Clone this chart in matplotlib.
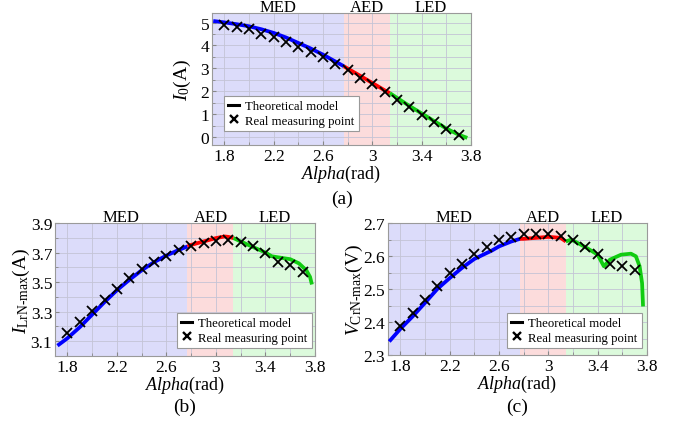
import numpy as np
import matplotlib
matplotlib.use("Agg")
import matplotlib.pyplot as plt
from matplotlib.lines import Line2D

plt.rcParams['font.family'] = ['Liberation Serif', 'DejaVu Serif']
plt.rcParams['mathtext.fontset'] = 'custom'
plt.rcParams['mathtext.rm'] = 'Liberation Serif'
plt.rcParams['mathtext.it'] = 'Liberation Serif:italic'
plt.rcParams['mathtext.bf'] = 'Liberation Serif:bold'

# ---------------- data ----------------
# region boundaries (rad)
med_aed = 2.77
aed_led = 3.1416
region_names = ["MED", "AED", "LED"]

# measured points (same alpha grid for all three quantities)
alpha_meas = [1.8, 1.9, 2.0, 2.1, 2.2, 2.3, 2.4, 2.5, 2.6, 2.7,
              2.8, 2.9, 3.0, 3.1, 3.2, 3.3, 3.4, 3.5, 3.6, 3.7]
i0_meas = [4.91, 4.80, 4.70, 4.52, 4.36, 4.17, 3.95, 3.72, 3.48, 3.19,
           2.92, 2.60, 2.30, 1.97, 1.63, 1.30, 0.98, 0.66, 0.36, 0.07]
ilrn_meas = [3.155, 3.227, 3.302, 3.382, 3.455, 3.525, 3.589, 3.634, 3.680, 3.718,
             3.745, 3.764, 3.775, 3.786, 3.770, 3.741, 3.700, 3.639, 3.616, 3.566]
vcrn_meas = [2.389, 2.427, 2.466, 2.508, 2.548, 2.577, 2.607, 2.627, 2.647, 2.658,
             2.668, 2.668, 2.668, 2.662, 2.647, 2.627, 2.607, 2.577, 2.569, 2.557]

# theoretical model curves
i0_model_x = [1.71, 1.8, 1.9, 2.0, 2.1, 2.2, 2.3, 2.4, 2.5, 2.6, 2.7, 2.77,
              2.8, 2.9, 3.0, 3.1, 3.1416, 3.2, 3.3, 3.4, 3.5, 3.6, 3.7, 3.77]
i0_model_y = [5.07, 5.01, 4.93, 4.84, 4.71, 4.55, 4.35, 4.11, 3.87, 3.60, 3.30, 3.09,
              2.99, 2.68, 2.36, 2.04, 1.92, 1.71, 1.36, 1.03, 0.70, 0.37, 0.10, -0.04]

ilrn_model_x = [1.72, 1.8, 1.9, 2.0, 2.1, 2.2, 2.3, 2.4, 2.5, 2.6, 2.7, 2.77,
                2.8, 2.9, 3.0, 3.07, 3.1, 3.1416, 3.2, 3.3, 3.4, 3.45, 3.5, 3.6,
                3.67, 3.73, 3.76, 3.775]
ilrn_model_y = [3.07, 3.12, 3.195, 3.28, 3.365, 3.445, 3.515, 3.58, 3.635, 3.68, 3.718, 3.741,
                3.752, 3.775, 3.798, 3.809, 3.806, 3.798, 3.775, 3.737, 3.70, 3.675, 3.668, 3.655,
                3.627, 3.58, 3.535, 3.484]

vcrn_model_x = [1.71, 1.8, 1.9, 2.0, 2.1, 2.2, 2.3, 2.4, 2.5, 2.54, 2.6, 2.7, 2.77,
                2.8, 2.9, 3.0, 3.1, 3.1416, 3.18, 3.2, 3.3, 3.4, 3.45, 3.5, 3.59,
                3.67, 3.71, 3.74, 3.76, 3.768]
vcrn_model_y = [2.341, 2.379, 2.417, 2.458, 2.50, 2.533, 2.564, 2.591, 2.609, 2.616, 2.629, 2.644, 2.652,
                2.652, 2.655, 2.658, 2.655, 2.644, 2.649, 2.647, 2.627, 2.604, 2.569, 2.589, 2.604,
                2.607, 2.599, 2.569, 2.518, 2.447]

x_ticks = [1.8, 2.2, 2.6, 3.0, 3.4, 3.8]
x_tick_labels = ["1.8", "2.2", "2.6", "3", "3.4", "3.8"]
x_minor = [2.0, 2.4, 2.8, 3.2, 3.6]

# ---------------- styling ----------------
W, H = 680, 427
shade = ["#dcdcfa", "#fcdcdc", "#dcfadc"]
line_col = ["#0000ff", "#ff0000", "#11cc11"]
grid_col = "#c4c4d6"
frame_col = "#9a9a9a"

fig = plt.figure(figsize=(W / 100, H / 100), dpi=100)


def rect(l, t, r, b):
    return [l / W, 1 - b / H, (r - l) / W, (b - t) / H]


def panel(box, mx, my, cx, cy, ylim, yticks, yticklabels, yminor, ylabel,
          ylabel_x, legend_xy, tag, tag_y):
    ax = fig.add_axes(rect(*box))
    ax.set_xlim(1.7, 3.8)
    ax.set_ylim(*ylim)
    ax.set_axisbelow(True)
    x0, x1 = ax.get_xlim()
    bounds = [x0, med_aed, aed_led, x1]
    for k in range(3):
        ax.axvspan(bounds[k], bounds[k + 1], color=shade[k], zorder=0.1, lw=0)
        ax.annotate(region_names[k], xy=((bounds[k] + bounds[k + 1]) / 2, 1.0),
                    xycoords=("data", "axes fraction"), xytext=(0, 1.5),
                    textcoords="offset points", ha="center", va="baseline",
                    fontsize=12)

    cx = np.asarray(cx)
    cy = np.asarray(cy)
    masks = [cx <= med_aed + 1e-9,
             (cx >= med_aed - 1e-9) & (cx <= aed_led + 1e-9),
             cx >= aed_led - 1e-9]
    for k in range(3):
        ax.plot(cx[masks[k]], cy[masks[k]], color=line_col[k], lw=2.7,
                solid_capstyle="butt", zorder=3)
    ax.plot(mx, my, ls="none", marker="x", ms=6.5, mew=1.3, color="black",
            zorder=4)

    ax.set_xticks(x_ticks)
    ax.set_xticklabels(x_tick_labels)
    ax.set_xticks(x_minor, minor=True)
    ax.set_yticks(yticks)
    ax.set_yticklabels(yticklabels)
    ax.set_yticks(yminor, minor=True)
    ax.grid(True, which="both", color=grid_col, lw=0.6)
    ax.tick_params(which="both", direction="in", color="#888888",
                   labelsize=12.5, pad=2)
    ax.tick_params(which="major", length=3)
    ax.tick_params(which="minor", length=2)
    for s in ax.spines.values():
        s.set_color(frame_col)
        s.set_linewidth(0.8)

    ax.set_xlabel(r"$\mathit{Alpha}$(rad)", fontsize=13, labelpad=-1)
    ax.set_ylabel(ylabel, fontsize=14)
    ax.yaxis.set_label_coords(ylabel_x, 0.5)

    handles = [Line2D([], [], color="black", lw=2.2),
               Line2D([], [], color="black", ls="none", marker="x", ms=6,
                      mew=1.7)]
    leg = ax.legend(handles, ["Theoretical model", "Real measuring point"],
                    loc="lower left",
                    bbox_to_anchor=(legend_xy[0] / W, 1 - legend_xy[1] / H),
                    bbox_transform=fig.transFigure, borderaxespad=0,
                    fontsize=9.2, handlelength=0.8, handletextpad=0.5,
                    borderpad=0.35, labelspacing=0.2, fancybox=False,
                    framealpha=1, edgecolor="#999999")
    leg.get_frame().set_linewidth(0.8)
    leg.set_zorder(6)

    cxp = (box[0] + box[2]) / 2
    fig.text(cxp / W, 1 - tag_y / H, tag, ha="center", va="center",
             fontsize=14)
    return ax


panel((212, 14, 471, 146), alpha_meas, i0_meas, i0_model_x, i0_model_y,
      (-0.35, 5.42), [0, 1, 2, 3, 4, 5], ["0", "1", "2", "3", "4", "5"],
      [0.5, 1.5, 2.5, 3.5, 4.5],
      r"$I_0$(A)", -0.073, (224, 132), "(a)", 199)

panel((55, 224, 315, 357), alpha_meas, ilrn_meas, ilrn_model_x, ilrn_model_y,
      (3.0, 3.9), [3.1, 3.3, 3.5, 3.7, 3.9], ["3.1", "3.3", "3.5", "3.7", "3.9"],
      [3.0, 3.2, 3.4, 3.6, 3.8],
      r"$I_{\mathrm{LrN\text{-}max}}$(A)", -0.088, (177, 349), "(b)", 407)

panel((388, 224, 647, 356), alpha_meas, vcrn_meas, vcrn_model_x, vcrn_model_y,
      (2.3, 2.7), [2.3, 2.4, 2.5, 2.6, 2.7], ["2.3", "2.4", "2.5", "2.6", "2.7"],
      [2.35, 2.45, 2.55, 2.65],
      r"$V_{\mathrm{CrN\text{-}max}}$(V)", -0.089, (507, 349), "(c)", 407)

fig.savefig("out.png", dpi=100)
